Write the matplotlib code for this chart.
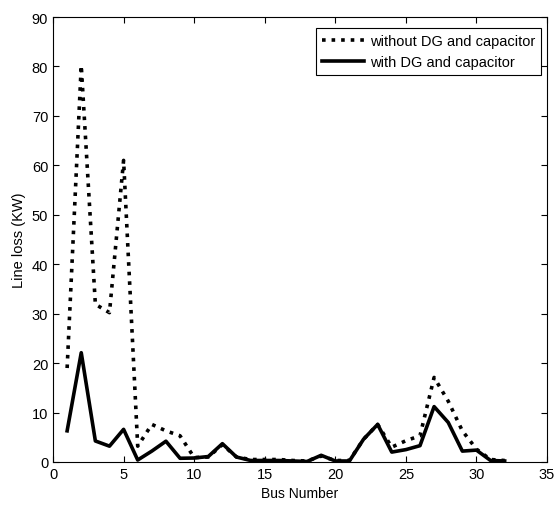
import matplotlib
matplotlib.use("Agg")
import matplotlib.pyplot as plt

plt.rcParams['font.family'] = ['Liberation Sans', 'DejaVu Sans']

bus = list(range(1, 33))
without_dg = [19, 80.2, 31.9, 30.2, 61, 3.2, 7.6, 6.3, 5.3, 0.9, 1.0, 3.5,
              1.0, 0.5, 0.5, 0.5, 0.3, 0.2, 1.2, 0.3, 0.3, 4.6, 7.6, 3.0,
              4.3, 5.3, 17.1, 12.3, 6.3, 2.6, 0.5, 0.3]
with_dg = [6.3, 22.1, 4.25, 3.2, 6.6, 0.4, 2.2, 4.2, 0.75, 0.8, 1.1, 3.7,
           1.0, 0.3, 0.3, 0.3, 0.2, 0.1, 1.35, 0.2, 0.2, 4.6, 7.6, 2.0,
           2.5, 3.3, 11.2, 8.0, 2.2, 2.4, 0.3, 0.2]

fig = plt.figure(figsize=(5.54, 5.10), dpi=100)
ax = fig.add_axes([0.0957, 0.0922, 0.8917, 0.8725])
ax.plot(bus, without_dg, linestyle=':', color='black', linewidth=2.6,
        label='without DG and capacitor')
ax.plot(bus, with_dg, linestyle='-', color='black', linewidth=2.6,
        label='with DG and capacitor')
ax.set_xlim(0, 35)
ax.set_ylim(0, 90)
ax.set_xticks(range(0, 36, 5))
ax.set_yticks(range(0, 91, 10))
ax.tick_params(direction='in', top=True, right=True, labelsize=10.5, length=4)
ax.set_xlabel('Bus Number', fontsize=10)
ax.set_ylabel('Line loss (KW)', fontsize=10.5)
leg = ax.legend(loc='upper right', bbox_to_anchor=(0.988, 0.975),
                fontsize=10.5, fancybox=False, edgecolor='black',
                framealpha=1, handlelength=2.9, handletextpad=0.4,
                borderaxespad=0.0, borderpad=0.4)
leg.get_frame().set_linewidth(0.8)
fig.savefig('out.png', dpi=100)
